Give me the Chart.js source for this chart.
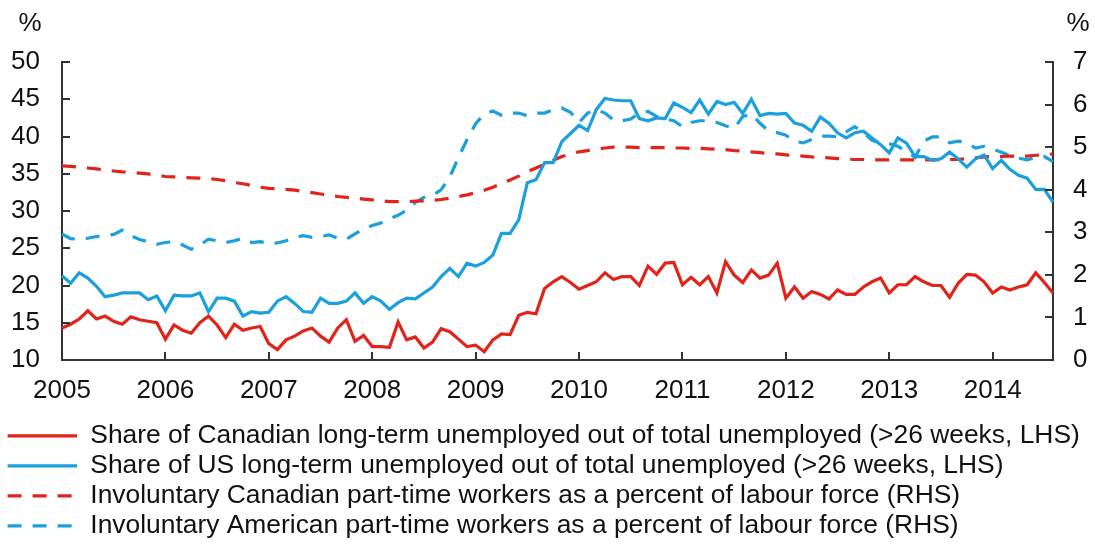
<!DOCTYPE html>
<html>
<head>
<meta charset="utf-8">
<script src="https://cdn.jsdelivr.net/npm/chart.js@4.4.1/dist/chart.umd.min.js"></script>
<style>
  html, body { margin: 0; padding: 0; background: #fff; }
  #wrap { width: 1095px; height: 553px; }
</style>
</head>
<body>
<div id="wrap"><canvas id="chart" width="1095" height="553"></canvas></div>
<script>
// monthly data, Jan 2005 - Aug 2014
const years = [2005, 2006, 2007, 2008, 2009, 2010, 2011, 2012, 2013, 2014];
const lastMonth = 8;

const months = [];
years.forEach(y => {
  for (let m = 1; m <= 12; m++) {
    if (y === years[years.length - 1] && m > lastMonth) return;
    months.push(y + '-' + String(m).padStart(2, '0'));
  }
});

const lhsTicks = [10, 15, 20, 25, 30, 35, 40, 45, 50];
const rhsTicks = [0, 1, 2, 3, 4, 5, 6, 7];

// share of long-term unemployed, % (LHS)
const caLongTerm = [
  14.3, 14.8, 15.5, 16.6, 15.5, 15.9, 15.2, 14.8, 15.8, 15.4, 15.2, 15.0,
  12.8, 14.7, 14.0, 13.6, 15.0, 15.9, 14.7, 13.0, 14.8, 14.0, 14.3, 14.5,
  12.2, 11.4, 12.7, 13.2, 13.9, 14.3, 13.2, 12.4, 14.3, 15.4, 12.5, 13.3,
  11.8, 11.8, 11.7, 15.1, 12.7, 13.1, 11.6, 12.4, 14.2, 13.8, 12.8, 11.8,
  12.0, 11.1, 12.7, 13.5, 13.4, 16.0, 16.4, 16.2, 19.6, 20.5, 21.2, 20.4,
  19.5, 20.0, 20.5, 21.7, 20.8, 21.2, 21.2, 20.0, 22.6, 21.5, 23.0, 23.1,
  20.1, 21.1, 20.1, 21.2, 19.0, 23.2, 21.4, 20.4, 22.1, 21.0, 21.4, 23.0,
  18.3, 19.8, 18.3, 19.2, 18.8, 18.2, 19.4, 18.8, 18.8, 19.8, 20.5, 21.0,
  19.0, 20.1, 20.1, 21.2, 20.5, 20.0, 20.0, 18.4, 20.3, 21.5, 21.4, 20.5,
  19.0, 19.8, 19.4, 19.8, 20.1, 21.7, 20.4, 19.0
];
const usLongTerm = [
  21.3, 20.3, 21.7, 21.0, 19.9, 18.5, 18.7, 19.0, 19.0, 19.0, 18.1, 18.6,
  16.6, 18.7, 18.6, 18.6, 19.0, 16.5, 18.3, 18.3, 17.9, 15.9, 16.5, 16.3,
  16.4, 17.9, 18.5, 17.6, 16.5, 16.4, 18.3, 17.6, 17.6, 17.9, 19.0, 17.6,
  18.5, 17.9, 16.8, 17.7, 18.3, 18.2, 19.0, 19.8, 21.2, 22.3, 21.2, 23.0,
  22.6, 23.1, 24.1, 27.0, 27.0, 28.8, 33.8, 34.2, 36.5, 36.5, 39.3, 40.4,
  41.5, 40.8, 43.6, 45.1, 44.9, 44.8, 44.8, 42.4, 42.1, 42.5, 42.4, 44.5,
  43.9, 43.2, 44.9, 43.0, 44.7, 44.3, 44.6, 43.1, 45.0, 42.8, 43.1, 43.0,
  43.1, 41.8, 41.5, 40.7, 42.6, 41.8, 40.5, 39.8, 40.5, 40.7, 39.8, 38.9,
  37.8, 39.8, 39.1, 37.3, 37.3, 36.8, 37.0, 37.9, 37.0, 35.9, 37.0, 37.5,
  35.7, 36.8, 35.6, 34.8, 34.4, 32.9, 32.9, 31.2
];

// involuntary part-time workers, % of labour force (RHS)
const caPartTime = [
  4.56, 4.55, 4.53, 4.51, 4.49, 4.46, 4.44, 4.42, 4.41, 4.39, 4.37, 4.34,
  4.31, 4.30, 4.29, 4.28, 4.27, 4.26, 4.24, 4.21, 4.17, 4.14, 4.10, 4.06,
  4.03, 4.02, 4.01, 3.99, 3.96, 3.93, 3.90, 3.87, 3.84, 3.82, 3.80, 3.78,
  3.76, 3.74, 3.72, 3.72, 3.72, 3.73, 3.74, 3.75, 3.77, 3.80, 3.84, 3.88,
  3.93, 3.99, 4.06, 4.14, 4.23, 4.32, 4.42, 4.51, 4.60, 4.69, 4.78, 4.84,
  4.89, 4.92, 4.95, 4.98, 5.00, 5.00, 5.00, 4.99, 4.99, 4.99, 4.99, 4.98,
  4.98, 4.97, 4.97, 4.96, 4.95, 4.94, 4.92, 4.91, 4.89, 4.87, 4.85, 4.84,
  4.82, 4.80, 4.79, 4.77, 4.76, 4.75, 4.73, 4.72, 4.71, 4.71, 4.70, 4.70,
  4.70, 4.70, 4.70, 4.70, 4.70, 4.70, 4.71, 4.71, 4.71, 4.73, 4.75, 4.77,
  4.78, 4.78, 4.79, 4.79, 4.79, 4.81, 4.82, 4.84
];
const usPartTime = [
  2.96, 2.85, 2.84, 2.86, 2.90, 2.92, 2.95, 3.05, 2.92, 2.83, 2.78, 2.72,
  2.76, 2.78, 2.70, 2.60, 2.70, 2.84, 2.80, 2.76, 2.80, 2.86, 2.76, 2.78,
  2.74, 2.75, 2.80, 2.88, 2.92, 2.88, 2.90, 2.94, 2.86, 2.84, 2.96, 3.08,
  3.16, 3.22, 3.32, 3.40, 3.52, 3.70, 3.82, 3.86, 4.00, 4.30, 4.75, 5.18,
  5.55, 5.78, 5.85, 5.75, 5.80, 5.80, 5.74, 5.80, 5.80, 5.88, 5.92, 5.82,
  5.58, 5.80, 5.88, 5.80, 5.64, 5.62, 5.66, 5.80, 5.84, 5.72, 5.66, 5.62,
  5.48, 5.58, 5.62, 5.62, 5.58, 5.50, 5.44, 5.72, 5.78, 5.56, 5.38, 5.34,
  5.28, 5.14, 5.10, 5.18, 5.26, 5.26, 5.24, 5.36, 5.48, 5.34, 5.16, 5.10,
  5.08, 5.02, 4.90, 4.76, 5.14, 5.24, 5.24, 5.10, 5.14, 5.10, 4.98, 5.02,
  4.96, 4.88, 4.80, 4.74, 4.70, 4.76, 4.78, 4.66
];

const RED = '#e2231a';
const BLUE = '#1a9fdf';
const AXIS = '#333333';
const TEXT = '#111111';
const FONT = "'Liberation Sans', Arial, sans-serif";

Chart.defaults.font.family = FONT;
Chart.defaults.color = TEXT;

// short tick marks pointing into the plot, plus the "%" unit labels
const axisExtras = {
  id: 'axisExtras',
  afterDraw(chart) {
    const { ctx, chartArea: a, scales } = chart;
    const len = 8;
    ctx.save();
    ctx.strokeStyle = AXIS;
    ctx.lineWidth = 2;
    ctx.beginPath();
    scales.x.ticks.forEach((t, i) => {
      if (!t.label) return;
      const x = Math.round(scales.x.getPixelForTick(i));
      ctx.moveTo(x, a.bottom);
      ctx.lineTo(x, a.bottom - len);
    });
    scales.yL.ticks.forEach((t, i) => {
      const y = Math.round(scales.yL.getPixelForTick(i));
      ctx.moveTo(a.left, y);
      ctx.lineTo(a.left + len, y);
    });
    scales.yR.ticks.forEach((t, i) => {
      const y = Math.round(scales.yR.getPixelForTick(i));
      ctx.moveTo(a.right, y);
      ctx.lineTo(a.right - len, y);
    });
    ctx.stroke();

    ctx.fillStyle = TEXT;
    ctx.font = '26px ' + FONT;
    ctx.textAlign = 'center';
    ctx.textBaseline = 'middle';
    ctx.fillText('%', a.left - 32, a.top - 38);
    ctx.fillText('%', a.right + 25, a.top - 38);
    ctx.restore();
  }
};

const lineStyle = { pointRadius: 0, pointHoverRadius: 0, tension: 0, borderWidth: 3.2, fill: false };
const dash = [14, 11];
// the legend sample is a zero-height box; 69.5px makes the dashes of the
// return stroke land exactly on the outgoing ones (3 dashes)
const legendSample = 69.5;

new Chart(document.getElementById('chart'), {
  type: 'line',
  data: {
    labels: months,
    datasets: [
      Object.assign({
        label: 'Share of Canadian long-term unemployed out of total unemployed (>26 weeks, LHS)',
        data: caLongTerm, borderColor: RED, backgroundColor: RED, yAxisID: 'yL'
      }, lineStyle),
      Object.assign({
        label: 'Share of US long-term unemployed out of total unemployed (>26 weeks, LHS)',
        data: usLongTerm, borderColor: BLUE, backgroundColor: BLUE, yAxisID: 'yL'
      }, lineStyle),
      Object.assign({
        label: 'Involuntary Canadian part-time workers as a percent of labour force (RHS)',
        data: caPartTime, borderColor: RED, backgroundColor: RED, yAxisID: 'yR',
        borderDash: dash
      }, lineStyle),
      Object.assign({
        label: 'Involuntary American part-time workers as a percent of labour force (RHS)',
        data: usPartTime, borderColor: BLUE, backgroundColor: BLUE, yAxisID: 'yR',
        borderDash: dash
      }, lineStyle)
    ]
  },
  options: {
    responsive: false,
    animation: false,
    devicePixelRatio: 1,
    layout: { padding: { top: 62, left: 4, right: 0, bottom: 4 } },
    scales: {
      x: {
        type: 'category',
        offset: false,
        grid: { display: false, drawTicks: false },
        border: { display: true, color: AXIS, width: 2 },
        ticks: {
          autoSkip: false,
          maxRotation: 0,
          padding: 15,
          font: { size: 26 },
          color: TEXT,
          callback: function (v, i) {
            const m = months[i];
            return m.endsWith('-01') ? m.slice(0, 4) : '';
          }
        },
        afterFit(scale) { scale.height = 59; }
      },
      yL: {
        position: 'left',
        min: lhsTicks[0],
        max: lhsTicks[lhsTicks.length - 1],
        grid: { display: false, drawTicks: false },
        border: { display: true, color: AXIS, width: 2 },
        ticks: { stepSize: 5, padding: 22, font: { size: 26 }, color: TEXT },
        afterFit(scale) { scale.width = 58; }
      },
      yR: {
        position: 'right',
        min: rhsTicks[0],
        max: rhsTicks[rhsTicks.length - 1],
        grid: { display: false, drawTicks: false },
        border: { display: true, color: AXIS, width: 2 },
        ticks: { stepSize: 1, padding: 20, font: { size: 26 }, color: TEXT },
        afterFit(scale) { scale.width = 42; }
      }
    },
    plugins: {
      tooltip: { enabled: false },
      legend: {
        position: 'bottom',
        align: 'start',
        labels: {
          boxWidth: legendSample,
          boxHeight: 0,
          padding: 3.6,
          font: { size: 26.4 },
          color: TEXT
        }
      }
    }
  },
  plugins: [axisExtras]
});
</script>
</body>
</html>
